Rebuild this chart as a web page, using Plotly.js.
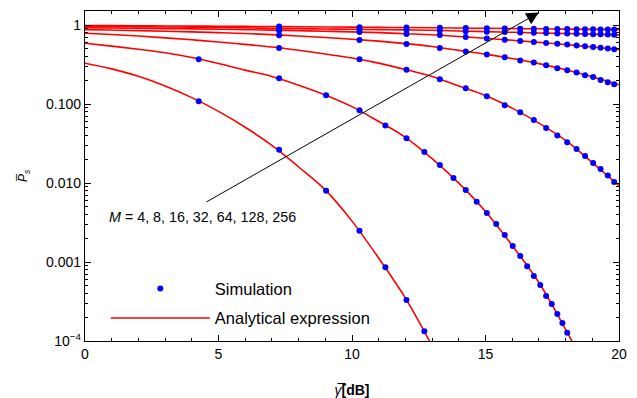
<!DOCTYPE html>
<html>
<head>
<meta charset="utf-8">
<script src="https://cdn.plot.ly/plotly-3.0.1.min.js"></script>
<style>html,body{margin:0;padding:0;background:#fff;}#chart{width:637px;height:398px;}</style>
</head>
<body>
<div id="chart"></div>
<script>
// Analytical curves
var xCurve = [0,1,2,3,4,5,6,7,8,9,10,11,12,13,14,15,16,17,18,19,20];
var curveM4   = [0.33,0.28,0.225,0.170,0.121,0.081,0.051,0.030,0.0160,0.0082,0.0033,0.00112,0.00035,0.000087,0.00002,null,null,null,null,null,null];
var curveM8   = [0.59,0.543,0.495,0.447,0.389,0.327,0.270,0.224,0.174,0.131,0.0930,0.0603,0.038,0.0204,0.0100,0.00437,0.00162,0.00055,0.00014,0.000032,null];
var curveM16  = [0.79,0.762,0.73,0.692,0.653,0.614,0.571,0.53,0.481,0.431,0.385,0.331,0.275,0.224,0.170,0.129,0.089,0.0575,0.0347,0.0182,0.0093];
var curveM32  = [0.88,0.868,0.855,0.84,0.823,0.805,0.785,0.76,0.73,0.698,0.665,0.628,0.585,0.537,0.48,0.43,0.378,0.326,0.273,0.222,0.176];
var curveM64  = [0.93,0.922,0.914,0.906,0.898,0.89,0.88,0.866,0.852,0.838,0.823,0.805,0.781,0.757,0.72,0.684,0.645,0.607,0.57,0.53,0.493];
var curveM128 = [0.965,0.96,0.954,0.948,0.942,0.935,0.927,0.912,0.904,0.896,0.889,0.88,0.872,0.862,0.845,0.829,0.813,0.798,0.784,0.77,0.755];
var curveM256 = [0.99,0.987,0.983,0.979,0.975,0.97,0.966,0.961,0.956,0.951,0.946,0.94,0.934,0.928,0.921,0.914,0.907,0.90,0.893,0.886,0.879];

// Simulation points
var xSimLow = [4.26,7.27,9.03,10.28,11.25,12.04,12.71,13.29,13.80,14.26,14.67,15.05,15.40,15.72,16.02,16.30,16.56,16.81,17.05,17.27,17.48,17.69,17.88,18.06];
var simM4 = [0.109,0.0265,0.0080,0.0025,0.00086,0.00033,0.000133];
var simM8 = [0.371,0.213,0.130,0.0839,0.0536,0.0371,0.0247,0.0169,0.01157,0.00815,0.0058,0.00417,0.00303,0.0022,0.0016,0.00119,0.000885,0.000665,0.000512,0.000372,0.000294,0.00022,0.000169,0.000127];
var xSimHigh = [7.27,10.28,12.04,13.29,14.26,15.05,15.72,16.30,16.81,17.27,17.69,18.06,18.41,18.73,19.03,19.31,19.58,19.82];
var simM16  = [0.516,0.371,0.272,0.207,0.159,0.126,0.097,0.079,0.063,0.050,0.040,0.033,0.027,0.022,0.018,0.0151,0.0125,0.0103];
var simM32  = [0.747,0.651,0.58,0.516,0.463,0.425,0.394,0.356,0.336,0.312,0.286,0.269,0.251,0.233,0.220,0.203,0.190,0.179];
var simM64  = [0.855,0.82,0.776,0.75,0.707,0.68,0.655,0.633,0.615,0.597,0.583,0.568,0.555,0.541,0.529,0.517,0.506,0.497];
var simM128 = [0.91,0.887,0.872,0.858,0.841,0.829,0.818,0.809,0.80,0.794,0.788,0.783,0.778,0.774,0.770,0.766,0.762,0.758];
var simM256 = [0.96,0.945,0.934,0.926,0.919,0.914,0.909,0.905,0.901,0.898,0.895,0.893,0.890,0.888,0.886,0.884,0.882,0.880];

var yTickVals = [0.0001,0.001,0.01,0.1,1];
var yTickText = ['10<sup>\u22124</sup>','0.001','0.010','0.100','1'];
var labelM = '<i>M</i> = 4, 8, 16, 32, 64, 128, 256';

var RED = '#ff0000', BLUE = '#0000ff';
var curves = [curveM4,curveM8,curveM16,curveM32,curveM64,curveM128,curveM256];
var sims = [[xSimLow.slice(0,simM4.length),simM4],[xSimLow,simM8],[xSimHigh,simM16],[xSimHigh,simM32],[xSimHigh,simM64],[xSimHigh,simM128],[xSimHigh,simM256]];

var traces = [];
curves.forEach(function(c,i){
  traces.push({x:xCurve,y:c,type:'scatter',mode:'lines',line:{color:RED,width:1.6,shape:'spline',smoothing:1},
    name:'Analytical expression',legendgroup:'b',showlegend:i===0,legendrank:2,hoverinfo:'skip'});
});
sims.forEach(function(s,i){
  traces.push({x:s[0],y:s[1],type:'scatter',mode:'markers',marker:{color:BLUE,size:6},
    name:'Simulation',legendgroup:'a',showlegend:i===0,legendrank:1,hoverinfo:'skip'});
});

var font = {family:'"Liberation Sans", Arial, sans-serif', size:14, color:'#000'};
var layout = {
  width:637,height:398,
  margin:{l:85,r:18,t:11,b:57},
  paper_bgcolor:'#fff',plot_bgcolor:'#fff',
  font:font,
  showlegend:true,
  legend:{x:0.039,y:0.114,xanchor:'left',yanchor:'middle',bgcolor:'rgba(0,0,0,0)',traceorder:'grouped',tracegroupgap:5,itemwidth:99,
    font:{family:font.family,size:16.5}},
  xaxis:{range:[0,20],tickmode:'linear',tick0:0,dtick:5,ticks:'inside',ticklen:6,tickwidth:1,tickcolor:'#000',
    showline:true,linecolor:'#000',linewidth:1.2,mirror:'ticks',showgrid:false,zeroline:false,
    minor:{dtick:1,ticks:'inside',ticklen:3,tickcolor:'#000',showgrid:false},
    tickfont:{size:14},
    title:{text:'<i>\u03b3\u0305</i><b>[dB]</b>',font:{size:14},standoff:26}},
  yaxis:{type:'log',range:[-4,0.18],tickmode:'array',tickvals:yTickVals,ticktext:yTickText,ticks:'inside',ticklen:6,tickwidth:1,tickcolor:'#000',
    showline:true,linecolor:'#000',linewidth:1.2,mirror:'ticks',showgrid:false,zeroline:false,
    minor:{dtick:'D1',ticks:'inside',ticklen:3,tickcolor:'#000',showgrid:false},
    tickfont:{size:14},
    title:{text:'<i>P\u0305</i><sub><i>s</i></sub>',font:{size:12},standoff:15}},
  annotations:[
    {x:17,y:0.16,xref:'x',yref:'y',ax:4.49,ay:-2.25,axref:'x',ayref:'y',text:'',showarrow:true,
     arrowhead:2,arrowsize:2.5,arrowwidth:1,arrowcolor:'#000',standoff:0,startstandoff:0},
    {x:0.82,y:-2.43,xref:'x',yref:'y',xanchor:'left',yanchor:'middle',text:labelM,showarrow:false,font:{size:14.3}}
  ]
};
Plotly.newPlot('chart',traces,layout,{staticPlot:true,displayModeBar:false});
</script>
</body>
</html>
